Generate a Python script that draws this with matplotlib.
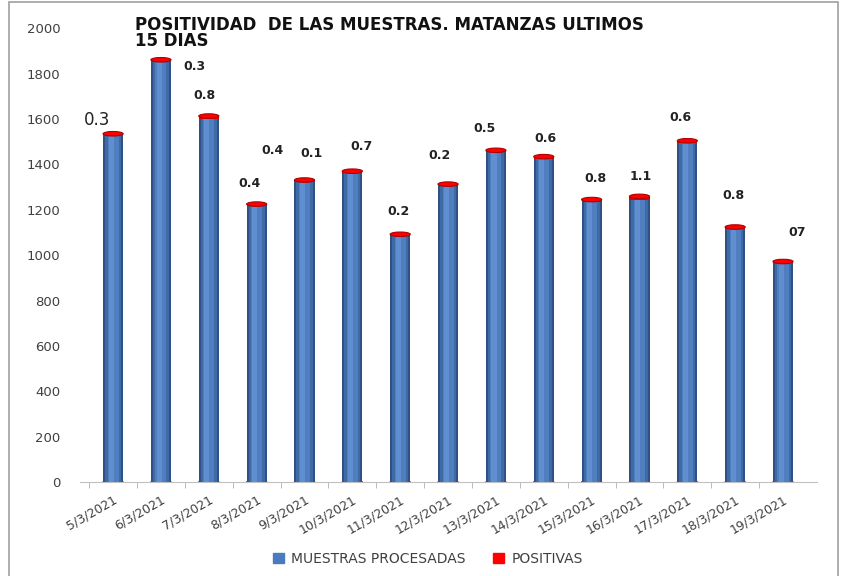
import matplotlib
matplotlib.use("Agg")
import matplotlib.pyplot as plt
from matplotlib.patches import Ellipse, Rectangle

fechas = ["5/3/2021", "6/3/2021", "7/3/2021", "8/3/2021", "9/3/2021", "10/3/2021",
          "11/3/2021", "12/3/2021", "13/3/2021", "14/3/2021", "15/3/2021", "16/3/2021",
          "17/3/2021", "18/3/2021", "19/3/2021"]
muestras = [1530, 1855, 1600, 1220, 1330, 1360, 1090, 1310, 1455, 1425, 1235, 1245, 1495, 1115, 965]
positivas = [5, 6, 13, 5, 1, 10, 2, 3, 7, 9, 10, 14, 9, 9, 7]

# etiquetas de positividad puestas a mano (texto, x, y)
etiquetas = ["0.3", "0.3", "0.8", "0.4", "0.4", "0.1", "0.7", "0.2", "0.2", "0.5",
             "0.6", "0.8", "1.1", "0.6", "0.8", "07"]
etq_x = [-0.33, 1.71, 1.9, 2.85, 3.33, 4.15, 5.2, 5.96, 6.83, 7.77,
         9.04, 10.08, 11.02, 11.85, 12.96, 14.29]
etq_y = [1595, 1833, 1705, 1317, 1463, 1449, 1480, 1194, 1440, 1559,
         1515, 1339, 1348, 1608, 1264, 1101]

fig = plt.figure(figsize=(8.47, 5.76), dpi=100)
ax = fig.add_axes([0.094, 0.163, 0.870, 0.788])

x = list(range(len(fechas)))
w = 0.42

# cilindros: varias capas para simular el sombreado
ax.bar(x, muestras, width=w, color="#2c5286", zorder=2)
ax.bar(x, muestras, width=w * 0.8, color="#3f6aa6", zorder=3)
ax.bar(x, muestras, width=w * 0.55, color="#4f7fc0", zorder=4)
ax.bar([i - 0.04 for i in x], muestras, width=w * 0.25, color="#5f8fd0", zorder=5)
ax.bar(x, positivas, bottom=muestras, width=w, color="#e00000", zorder=5)

for i in x:
    ax.add_patch(Ellipse((i, 0), w, 18, color="#3f6aa6", zorder=1))
    ax.add_patch(Ellipse((i, muestras[i] + positivas[i]), w, 20,
                         facecolor="#ff0000", edgecolor="#b00000", lw=0.8, zorder=6))

for k in range(len(etiquetas)):
    if k == 0:
        ax.text(etq_x[k], etq_y[k], etiquetas[k], fontsize=12, ha="center", va="center", color="#222222")
    else:
        ax.text(etq_x[k], etq_y[k], etiquetas[k], fontsize=9, fontweight="bold",
                ha="center", va="center", color="#222222")

ax.set_xlim(-0.7, 14.7)
ax.set_ylim(0, 2000)
ax.set_yticks(range(0, 2001, 200))
ax.tick_params(axis="y", length=0, pad=14, labelsize=9.5, labelcolor="#404040")
ax.set_xticks(x)
ax.set_xticklabels(fechas, rotation=30, ha="right", rotation_mode="anchor",
                   fontsize=9, color="#404040")
ax.tick_params(axis="x", length=0, pad=8)
ax.set_xticks([i + 0.5 for i in x[:-1]] + [-0.5], minor=True)
ax.tick_params(axis="x", which="minor", length=4, color="#b0b0b0")
for s in ["top", "right", "left"]:
    ax.spines[s].set_visible(False)
ax.spines["bottom"].set_color("#c0c0c0")

ax.text(0.075, 1.028, "POSITIVIDAD  DE LAS MUESTRAS. MATANZAS ULTIMOS\n15 DIAS",
        transform=ax.transAxes, fontsize=12, fontweight="bold", ha="left", va="top",
        linespacing=0.9, color="#111111")

h1 = Rectangle((0, 0), 1, 1, color="#4a7bbf")
h2 = Rectangle((0, 0), 1, 1, color="#ff0000")
fig.legend([h1, h2], ["MUESTRAS PROCESADAS", "POSITIVAS"], loc="center",
           bbox_to_anchor=(0.505, 0.03), ncol=2, frameon=False, fontsize=10,
           handlelength=0.8, handleheight=0.8, handletextpad=0.5, columnspacing=2.0,
           labelcolor="#404040")

fig.patches.append(Rectangle((9 / 847, -0.01), 829 / 847, 1 - 2 / 576 + 0.01,
                             transform=fig.transFigure, fill=False, edgecolor="#a0a0a0", lw=1.2))

fig.savefig("out.png", dpi=100)
